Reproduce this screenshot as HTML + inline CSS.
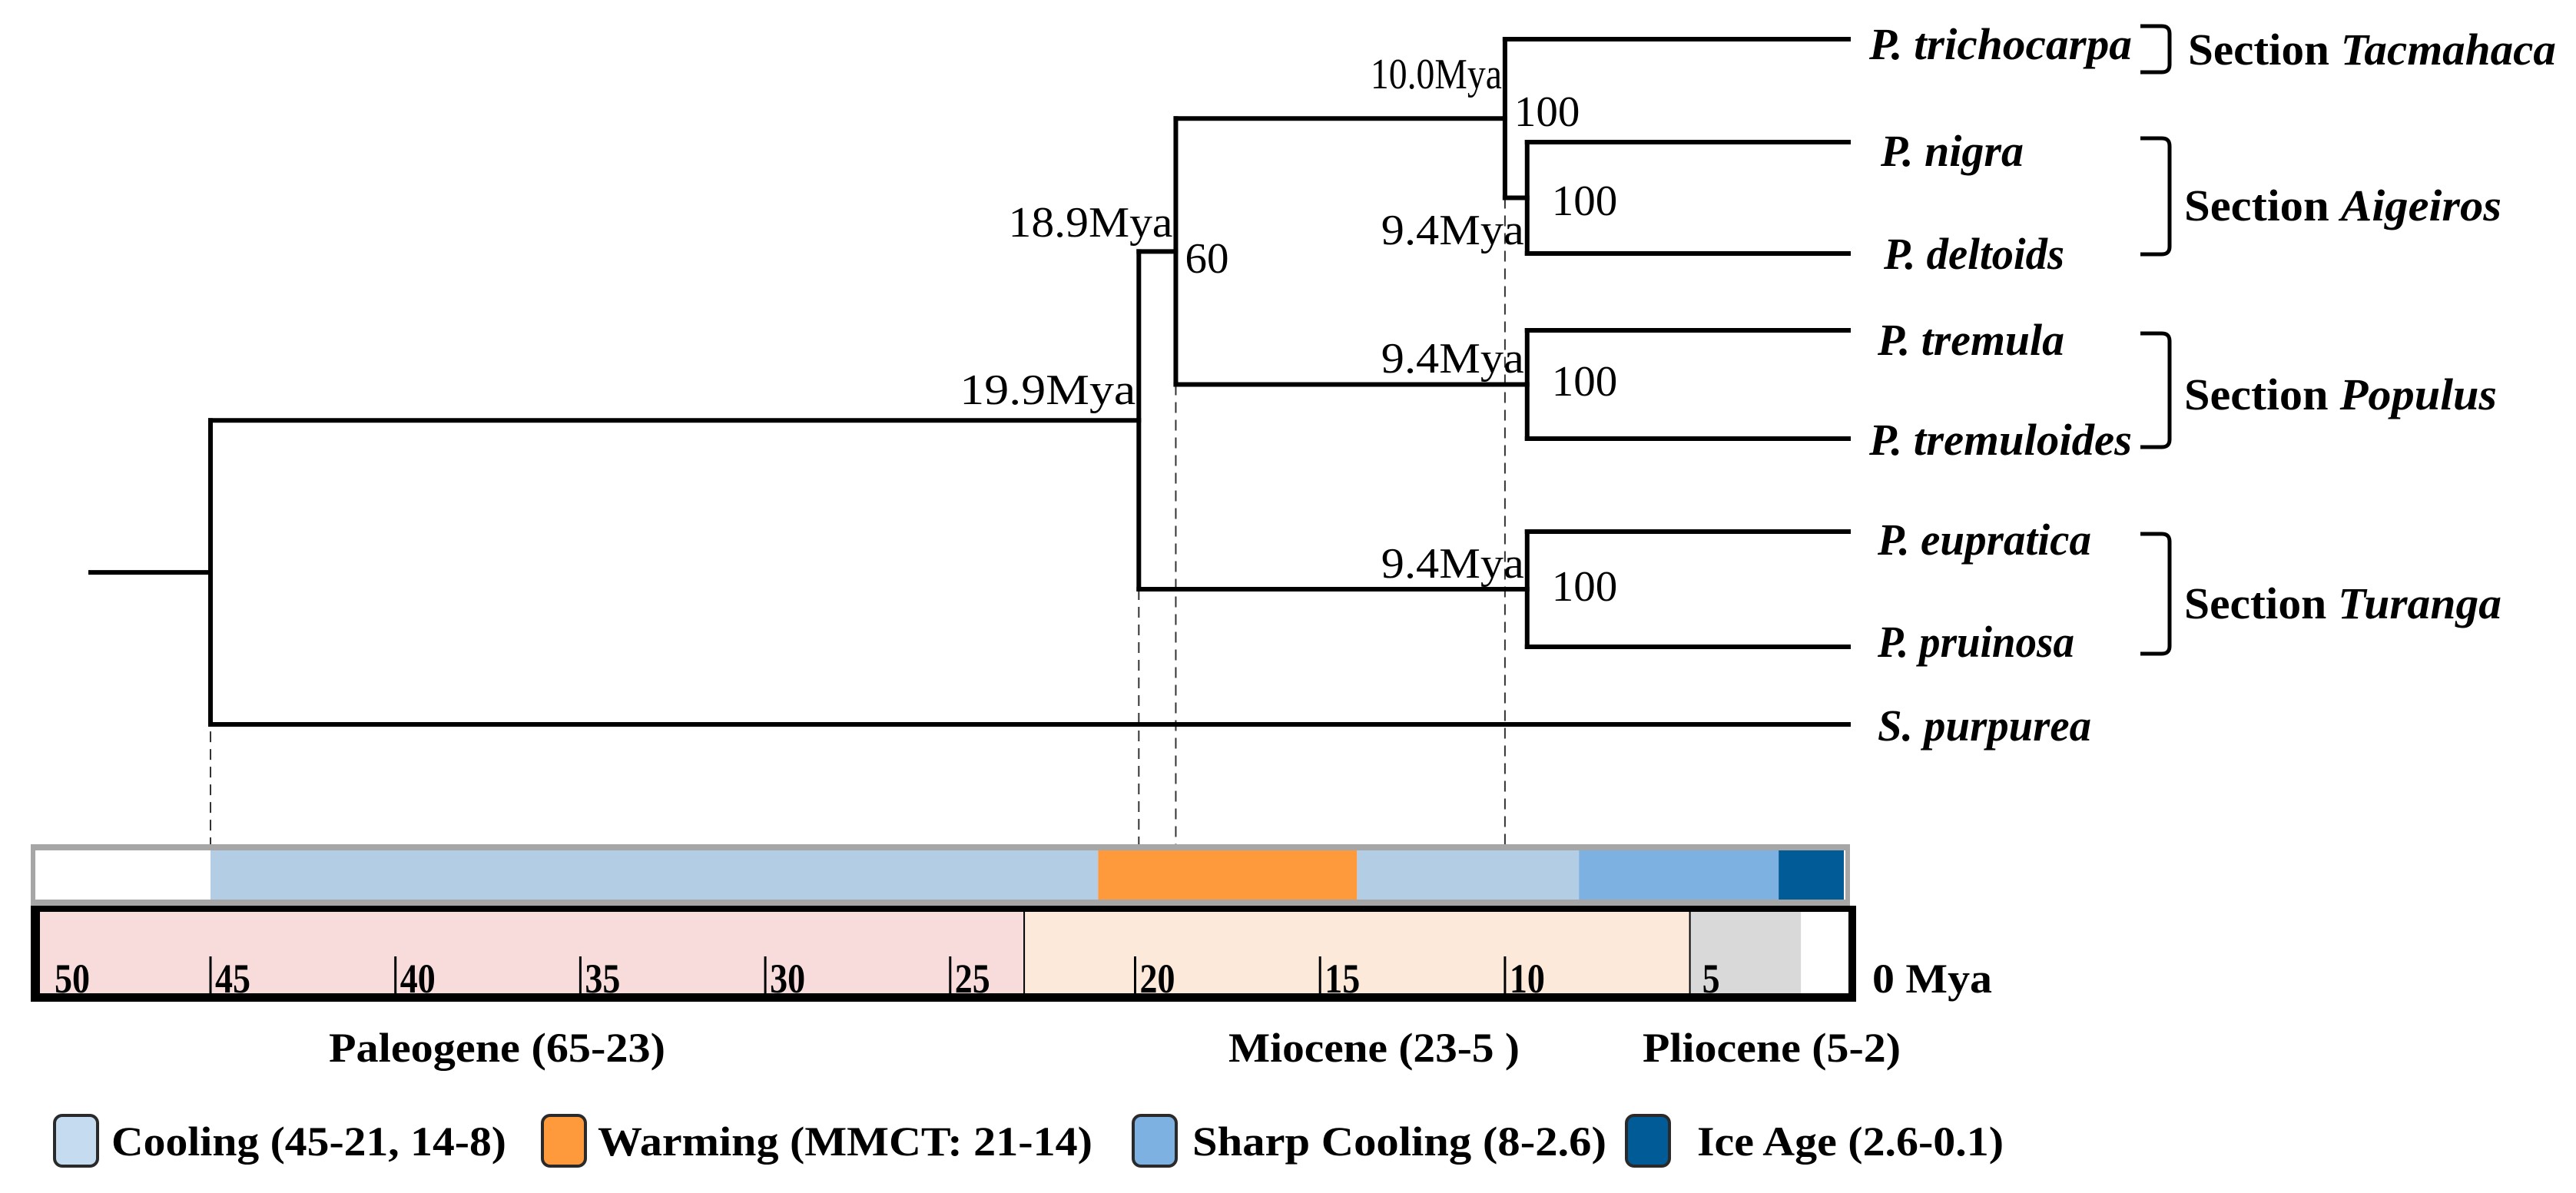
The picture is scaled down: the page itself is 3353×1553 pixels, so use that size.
<!DOCTYPE html>
<html><head><meta charset="utf-8"><style>
html,body{margin:0;padding:0;background:#fff;}
svg{display:block;}
svg text{font-family:"Liberation Serif","Times New Roman",serif;}
</style></head><body>
<svg id="chart" width="3353" height="1553" viewBox="0 0 3353 1553" xmlns="http://www.w3.org/2000/svg" font-family="Liberation Serif, serif"></svg>
<script>
// ---- data ----
const nodeNames = ["root","n199","n189","n100","aig","pop","tur"];
const nodeAges = [45, 19.9, 18.9, 10.0, 9.4, 9.4, 9.4];
const nodeAgeLabels = ["", "19.9Mya", "18.9Mya", "10.0Mya", "9.4Mya", "9.4Mya", "9.4Mya"];
const nodeSupport = ["", "", "60", "100", "100", "100", "100"];
const tickValues = [45, 40, 35, 30, 25, 20, 15, 10];
const tickLabels = ["50", "45", "40", "35", "30", "25", "20", "15", "10", "5"];
const climateStart = [45, 21, 14, 8, 2.6];
const climateEnd = [21, 14, 8, 2.6, 0.1];
const climateKinds = ["cooling", "warming", "cooling", "sharp", "ice"];
const eraStart = [50, 23, 5];
const eraEnd = [23, 5, 2];
const eraNames = ["Paleogene (65-23)", "Miocene (23-5 )", "Pliocene (5-2)"];

// ---- scales / layout ----
const x = t => 274 + (45 - t) * 48.14;
const colors = {cooling:"#b3cde4", warming:"#ff9a3c", sharp:"#7cb1e2", ice:"#005b96"};
const eraColors = ["#f8dcdc", "#fde9da", "#d9d9d9"];
const svg = document.getElementById('chart');
const NS = "http://www.w3.org/2000/svg";
function mk(tag, attrs, parent){
  const e = document.createElementNS(NS, tag);
  for (const k in attrs) e.setAttribute(k, attrs[k]);
  (parent||svg).appendChild(e);
  return e;
}
function txt(s, px, py, len, size, weight, name, italicPart){
  const t = mk('text', {x:px, y:py, 'font-family':'Liberation Serif, Times New Roman, serif', 'font-size':size, 'font-weight':weight||'normal', textLength:len, lengthAdjust:'spacingAndGlyphs'});
  
  
  if (italicPart){
    const a = mk('tspan', {}, t); a.textContent = s;
    const b = mk('tspan', {'font-style':'italic'}, t); b.textContent = italicPart;
  } else t.textContent = s;
  return t;
}
const LW = 6;
function line(x1,y1,x2,y2,name){
  const l = mk('line', {x1,y1,x2,y2,stroke:'#000','stroke-width':LW,'stroke-linecap':'square'});
  
  
  return l;
}

const NX = nodeAges.map(x);
const leafX = 2406;
const Y = {tri:51, nig:185, del:330, trem:430, tremd:571, eup:692, pru:842, sal:943};
const yAig = (Y.nig+Y.del)/2, yPop=(Y.trem+Y.tremd)/2, yTur=(Y.eup+Y.pru)/2;
const y100 = (Y.tri + yAig)/2;
const y189 = (y100 + yPop)/2;
const y199 = (y189 + yTur)/2;
const yRoot = (y199 + Y.sal)/2;

[0,1,2,3].forEach(i=>{
  const d = mk('line',{x1:NX[i],y1:[yRoot,yTur,yPop,yAig][i],x2:NX[i],y2:1190,stroke:'#333','stroke-width':2,'stroke-dasharray':'14,9'});
  
  
});

line(118, yRoot, NX[0], yRoot, 'root-stub');
line(NX[0], y199, NX[0], Y.sal, 'root-node');
line(NX[0], y199, NX[1], y199, 'branch-to-19.9');
line(NX[0], Y.sal, leafX, Y.sal, 'branch-s-purpurea');
line(NX[1], y189, NX[1], yTur, 'node-19.9');
line(NX[1], y189, NX[2], y189, 'branch-to-18.9');
line(NX[1], yTur, NX[6], yTur, 'branch-to-turanga');
line(NX[2], y100, NX[2], yPop, 'node-18.9');
line(NX[2], y100, NX[3], y100, 'branch-to-10.0');
line(NX[2], yPop, NX[5], yPop, 'branch-to-populus');
line(NX[3], Y.tri, NX[3], yAig, 'node-10.0');
line(NX[3], Y.tri, leafX, Y.tri, 'branch-p-trichocarpa');
line(NX[3], yAig, NX[4], yAig, 'branch-to-aigeiros');
line(NX[4], Y.nig, NX[4], Y.del, 'node-aigeiros');
line(NX[4], Y.nig, leafX, Y.nig, 'branch-p-nigra');
line(NX[4], Y.del, leafX, Y.del, 'branch-p-deltoids');
line(NX[5], Y.trem, NX[5], Y.tremd, 'node-populus');
line(NX[5], Y.trem, leafX, Y.trem, 'branch-p-tremula');
line(NX[5], Y.tremd, leafX, Y.tremd, 'branch-p-tremuloides');
line(NX[6], Y.eup, NX[6], Y.pru, 'node-turanga');
line(NX[6], Y.eup, leafX, Y.eup, 'branch-p-eupratica');
line(NX[6], Y.pru, leafX, Y.pru, 'branch-p-pruinosa');

const ageLabelY = [0, 526, 308, 115, 318, 485, 752];
const ageLabelW = [0, 229, 214, 171, 186, 186, 186];
for (let i=1;i<nodeAges.length;i++){
  const w = ageLabelW[i];
  txt(nodeAgeLabels[i], NX[i]-w-4, ageLabelY[i], w, 56, 'normal', 'node-age-label');
}
const supY = [0,0,355,164,280,515,782];
for (let i=2;i<nodeAges.length;i++){
  const s = nodeSupport[i];
  const px = (i>=4) ? NX[i]+32 : NX[i]+12;
  txt(s, px, supY[i], s.length*28.5, 56, 'normal', 'bootstrap-support');
}

const sp = [["P. trichocarpa",2433,77,342],["P. nigra",2448,216,186],["P. deltoids",2452,350,235],["P. tremula",2444,462,243],["P. tremuloides",2433,592,342],["P. eupratica",2444,722,278],["P. pruinosa",2444,855,256],["S. purpurea",2444,964,278]];
sp.forEach(s=>{
  const t = txt(s[0], s[1], s[2], s[3], 58, 'bold', 'species-label');
  t.setAttribute('font-style','italic');
});

function bracket(x0, y0, y1, name){
  const p = mk('path',{d:`M${x0},${y0} L${x0+28},${y0} Q${x0+38},${y0} ${x0+38},${y0+10} L${x0+38},${y1-10} Q${x0+38},${y1} ${x0+28},${y1} L${x0},${y1}`, fill:'none', stroke:'#000','stroke-width':5});
  
  
}
bracket(2786, 34, 94, 'bracket-tacmahaca');
bracket(2786, 180, 331, 'bracket-aigeiros');
bracket(2786, 434, 582, 'bracket-populus');
bracket(2786, 695, 851, 'bracket-turanga');
txt("Section ", 2848, 84, 479, 58, 'bold', 'section-tacmahaca-label', "Tacmahaca");
txt("Section ", 2843, 287, 413, 58, 'bold', 'section-aigeiros-label', "Aigeiros");
txt("Section ", 2843, 533, 407, 58, 'bold', 'section-populus-label', "Populus");
txt("Section ", 2843, 805, 413, 58, 'bold', 'section-turanga-label', "Turanga");

// climate bar
let r = mk('rect',{x:40,y:1099,width:2368,height:80,fill:'#a6a6a6'});
 
r = mk('rect',{x:46,y:1107,width:2356,height:64,fill:'#fff'});
 
climateStart.forEach((s,i)=>{
  const x0 = Math.max(46, x(s)), x1 = Math.min(2400, x(climateEnd[i]));
  const rr = mk('rect',{x:x0,y:1107,width:Math.max(0,x1-x0),height:64,fill:colors[climateKinds[i]]});
  
  
});

// timeline box
r = mk('rect',{x:40,y:1179,width:2376,height:125,fill:'#000'});
 
const inL=52, inR=2406;
eraStart.forEach((s,i)=>{
  const x0 = Math.max(inL, x(s)), x1 = Math.min(inR, x(eraEnd[i]));
  const rr = mk('rect',{x:x0,y:1187,width:x1-x0,height:106,fill:eraColors[i]});
  
  
  if (i>0){ const b = mk('line',{x1:x0,y1:1187,x2:x0,y2:1293,stroke:'#000','stroke-width':2});   }
});
r = mk('rect',{x:x(2),y:1187,width:inR-x(2),height:106,fill:'#fff'});
 
tickValues.forEach(t=>{
  const l = mk('line',{x1:x(t),y1:1245,x2:x(t),y2:1293,stroke:'#000','stroke-width':3});
  
  
});
tickLabels.forEach((s,i)=>{
  const v = parseFloat(s);
  const px = v===50 ? 71 : (v===5 ? x(5)+16 : x(v)+6);
  txt(s, px, 1292, s.length*23, 54, 'bold', 'time-tick-label');
});
txt("0 Mya", 2437, 1292, 156, 54, 'bold', 'time-axis-unit-label');

const eraLX = [428, 1599, 2138], eraLW=[438, 379, 336];
eraNames.forEach((n,i)=> txt(n, eraLX[i], 1382, eraLW[i], 54, 'bold', 'era-label'));

const legend = [["Cooling (45-21, 14-8)", "#c5dcf0", 71, 145, 514],["Warming (MMCT: 21-14)", "#ff9a3c", 706, 778, 644],["Sharp Cooling (8-2.6)", "#7cb1e2", 1475, 1552, 539],["Ice Age (2.6-0.1)", "#005b96", 2117, 2209, 399]];
legend.forEach(l=>{
  const s = mk('rect',{x:l[2],y:1452,width:56,height:66,rx:10,fill:l[1],stroke:'#2a2a2a','stroke-width':4});
  
  
  txt(l[0], l[3], 1504, l[4], 54, 'bold', 'legend-entry');
});
</script>
</body></html>
